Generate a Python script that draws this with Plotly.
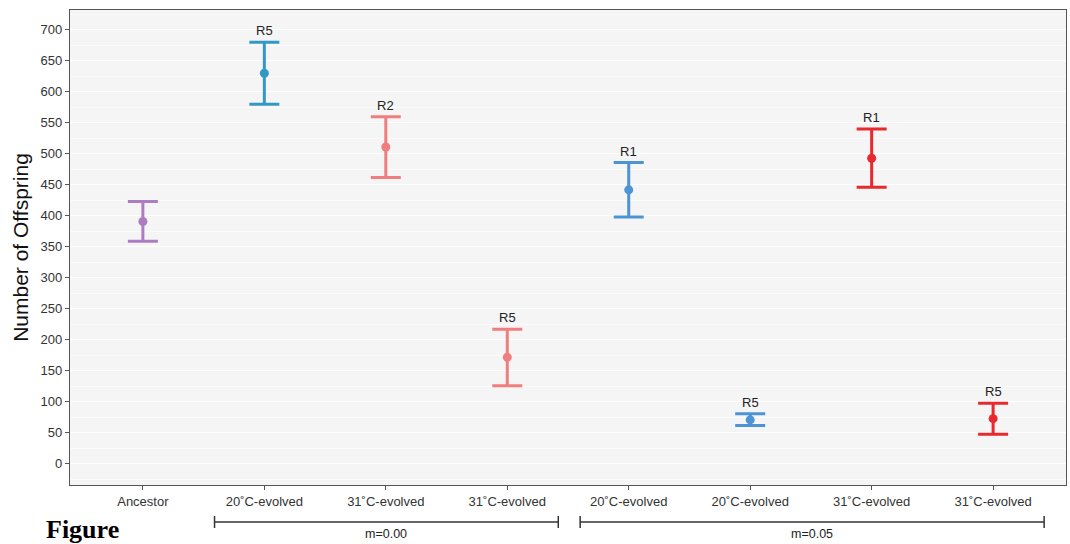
import plotly.graph_objects as go

tick_labels = ["Ancestor", "20˚C-evolved", "31˚C-evolved", "31˚C-evolved",
               "20˚C-evolved", "20˚C-evolved", "31˚C-evolved", "31˚C-evolved"]
replicates = ["", "R5", "R2", "R5", "R1", "R5", "R1", "R5"]
means = [391, 630, 511, 172, 442, 71, 493, 73]
uppers = [423, 680, 560, 217, 486, 81, 540, 98]
lowers = [359, 580, 462, 126, 398, 62, 446, 48]
colors = ["#AD7DC2", "#3399C4", "#F07E7E", "#F07E7E",
          "#4D93D6", "#4D93D6", "#E8292D", "#E8292D"]
groups = [("m=0.00", 0.59, 3.42), ("m=0.05", 3.60, 7.42)]

W, H = 1070, 544
L, R, T, B = 70, 4, 10, 59
ph = H - T - B

def py(p):
    return (H - B - p) / ph

fig = go.Figure()
for i in range(len(means)):
    fig.add_trace(go.Scatter(
        x=[i], y=[means[i]], mode="markers",
        marker=dict(color=colors[i], size=9),
        error_y=dict(type="data", symmetric=False,
                     array=[uppers[i] - means[i]],
                     arrayminus=[means[i] - lowers[i]],
                     color=colors[i], thickness=3, width=15),
        showlegend=False, hoverinfo="skip"))
    if replicates[i]:
        fig.add_annotation(x=i, y=uppers[i], text=replicates[i], showarrow=False,
                           yanchor="bottom", yshift=2,
                           font=dict(size=13, color="#222"))

shapes = []
for name, x0, x1 in groups:
    yy = py(522)
    shapes.append(dict(type="line", xref="x", yref="paper", x0=x0, x1=x1, y0=yy, y1=yy,
                       line=dict(color="#333", width=1.5)))
    for xx in (x0, x1):
        shapes.append(dict(type="line", xref="x", yref="paper", x0=xx, x1=xx,
                           y0=py(516), y1=py(528), line=dict(color="#333", width=1.5)))
    fig.add_annotation(x=(x0 + x1) / 2, xref="x", y=py(534), yref="paper", text=name,
                       showarrow=False, font=dict(size=12.5, color="#222"), yanchor="middle")

fig.add_annotation(x=(44 - L) / (W - L - R), xref="paper", y=py(546), yref="paper",
                   text="<b>Figure</b>", showarrow=False, xanchor="left", yanchor="bottom",
                   font=dict(family="Liberation Serif", size=26, color="#000"))

fig.update_layout(
    width=W, height=H, margin=dict(l=L, r=R, t=T, b=B, autoexpand=False),
    paper_bgcolor="white", plot_bgcolor="#F5F5F5",
    font=dict(family="Liberation Sans, Arial", color="#333"),
    shapes=shapes,
)
fig.update_xaxes(range=[-0.6, 7.6], tickvals=list(range(8)), ticktext=tick_labels,
                 showgrid=False, zeroline=False, showline=True, linecolor="#555",
                 linewidth=1.2, mirror=True, ticks="outside", ticklen=4, tickcolor="#555",
                 tickfont=dict(size=13, color="#333"))
fig.update_yaxes(range=[-34, 732], tickvals=list(range(0, 701, 50)),
                 showgrid=True, gridcolor="white", gridwidth=1.2,
                 minor=dict(tickvals=list(range(25, 726, 50)) + [-25], showgrid=True,
                            gridcolor="#FBFBFB", gridwidth=0.8),
                 zeroline=False, showline=True, linecolor="#555", linewidth=1.2,
                 mirror=True, ticks="outside", ticklen=4, tickcolor="#555",
                 tickfont=dict(size=13, color="#333"),
                 title=dict(text="Number of Offspring", font=dict(size=21, color="#111"),
                            standoff=6))

fig.write_html("out.html", post_script="document.body.style.margin='0';",
               config={"displayModeBar": False})
